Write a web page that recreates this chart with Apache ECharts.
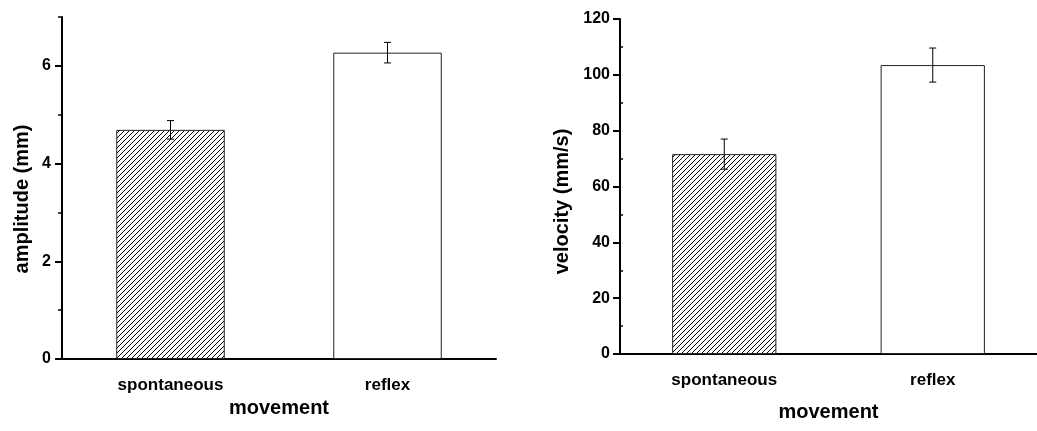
<!DOCTYPE html>
<html>
<head>
<meta charset="utf-8">
<script src="https://cdn.jsdelivr.net/npm/echarts@6/dist/echarts.min.js"></script>
<style>
  html, body { margin: 0; padding: 0; background: #fff; }
  #chart { width: 1037px; height: 431px; }
</style>
</head>
<body>
<div id="chart"></div>
<script>
// Movement categories shared by both panels
const categories = ['spontaneous', 'reflex'];

// Amplitude panel (mean and error, mm)
const amplitudeMean = [4.69, 6.27];
const amplitudeErr = [0.19, 0.21];
const amplitudeTicks = [0, 2, 4, 6];
const amplitudeMinorTicks = [1, 3, 5, 7];

// Velocity panel (mean and error, mm/s)
const velocityMean = [71.6, 103.5];
const velocityErr = [5.4, 6.1];
const velocityTicks = [0, 20, 40, 60, 80, 100, 120];
const velocityMinorTicks = [10, 30, 50, 70, 90, 110];

const FONT = '"Liberation Sans", Arial, sans-serif';

// Diagonal hatch tile for the first bar
function hatchPattern() {
  const s = 5;
  const c = document.createElement('canvas');
  c.width = s; c.height = s;
  const ctx = c.getContext('2d');
  ctx.fillStyle = '#fff';
  ctx.fillRect(0, 0, s, s);
  ctx.strokeStyle = '#000';
  ctx.lineWidth = 1;
  ctx.beginPath();
  ctx.moveTo(-1, s + 1); ctx.lineTo(s + 1, -1);
  ctx.moveTo(-1, 1); ctx.lineTo(1, -1);
  ctx.moveTo(s - 1, s + 1); ctx.lineTo(s + 1, s - 1);
  ctx.stroke();
  return { image: c, repeat: 'repeat' };
}
const hatch = hatchPattern();

function barData(values) {
  return values.map((v, i) => ({
    value: v,
    itemStyle: { color: i === 0 ? hatch : '#fff', borderColor: '#222', borderWidth: 1 }
  }));
}

function errorData(means, errs) {
  return means.map((m, i) => [i, m - errs[i], m + errs[i]]);
}

function renderError(params, api) {
  const lo = api.coord([api.value(0), api.value(1)]);
  const hi = api.coord([api.value(0), api.value(2)]);
  const w = 3.5;
  const style = { stroke: '#000', lineWidth: 1 };
  return {
    type: 'group',
    children: [
      { type: 'line', shape: { x1: hi[0], y1: hi[1], x2: lo[0], y2: lo[1] }, style },
      { type: 'line', shape: { x1: hi[0] - w, y1: hi[1], x2: hi[0] + w, y2: hi[1] }, style },
      { type: 'line', shape: { x1: lo[0] - w, y1: lo[1], x2: lo[0] + w, y2: lo[1] }, style }
    ]
  };
}

const labelFont = { fontFamily: FONT, fontWeight: 'bold', color: '#000' };

function catAxes(grid, nameGap) {
  return [
    {
      type: 'category', gridIndex: grid, data: categories,
      name: 'movement', nameLocation: 'middle', nameGap: nameGap,
      nameTextStyle: Object.assign({ fontSize: 20 }, labelFont),
      axisLine: { lineStyle: { color: '#000', width: 2 } },
      axisTick: { alignWithLabel: true, length: 6, lineStyle: { color: '#000', width: 2 } },
      axisLabel: Object.assign({ fontSize: 17, margin: 18 }, labelFont),
      splitLine: { show: false }
    },
    {
      type: 'category', gridIndex: grid, data: categories,
      axisLine: { show: false },
      axisTick: { length: 2, lineStyle: { color: '#000', width: 1.5 } },
      axisLabel: { show: false },
      splitLine: { show: false }
    }
  ];
}

function valAxes(grid, max, ticks, minorTicks, name, nameGap, shift, labelMargin, minorInside, minorLen) {
  return [
    {
      type: 'value', gridIndex: grid, position: 'left', min: 0, max: max,
      name: name, nameLocation: 'middle', nameGap: nameGap,
      nameTextStyle: Object.assign({ fontSize: 20, padding: [0, shift, 0, 0] }, labelFont),
      axisLine: { show: true, lineStyle: { color: '#000', width: 2 } },
      axisTick: { show: true, length: 7, customValues: ticks, lineStyle: { color: '#000', width: 2 } },
      axisLabel: Object.assign({ fontSize: 16, margin: labelMargin, customValues: ticks }, labelFont),
      splitLine: { show: false }
    },
    {
      type: 'value', gridIndex: grid, position: 'left', min: 0, max: max,
      axisLine: { show: false },
      axisTick: { show: true, inside: minorInside, length: minorLen, customValues: minorTicks,
                  lineStyle: { color: '#000', width: 1.5 } },
      axisLabel: { show: false },
      splitLine: { show: false }
    }
  ];
}

const chart = echarts.init(document.getElementById('chart'), null, { renderer: 'canvas' });

chart.setOption({
  backgroundColor: '#fff',
  animation: false,
  grid: [
    { left: 62, top: 17, width: 434, height: 342 },
    { left: 620, top: 19, width: 424, height: 335 }
  ],
  xAxis: [].concat(catAxes(0, 33), catAxes(1, 48)),
  yAxis: [].concat(
    valAxes(0, 7, amplitudeTicks, amplitudeMinorTicks, 'amplitude (mm)', 30, 22, 11, false, 4),
    valAxes(1, 120, velocityTicks, velocityMinorTicks, 'velocity (mm/s)', 48, 30, 10, true, 3)
  ),
  series: [
    {
      type: 'bar', xAxisIndex: 0, yAxisIndex: 0, barWidth: '50%',
      data: barData(amplitudeMean)
    },
    {
      type: 'custom', xAxisIndex: 0, yAxisIndex: 0, renderItem: renderError,
      encode: { x: 0, y: [1, 2] }, data: errorData(amplitudeMean, amplitudeErr), z: 5
    },
    {
      type: 'bar', xAxisIndex: 2, yAxisIndex: 2, barWidth: '50%',
      data: barData(velocityMean)
    },
    {
      type: 'custom', xAxisIndex: 2, yAxisIndex: 2, renderItem: renderError,
      encode: { x: 0, y: [1, 2] }, data: errorData(velocityMean, velocityErr), z: 5
    }
  ]
});
</script>
</body>
</html>
